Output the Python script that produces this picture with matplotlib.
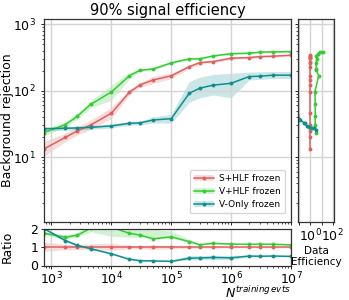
import numpy as np
import matplotlib
matplotlib.use("Agg")
import matplotlib.pyplot as plt
from matplotlib.patches import Patch
from matplotlib.lines import Line2D
from matplotlib.ticker import FixedLocator, FixedFormatter

# ---------------- data ----------------
n_train = [750, 1700, 2700, 4500, 1e4, 2e4, 3e4, 5e4, 1e5, 2e5, 3e5, 5e5, 1e6, 2e6, 3e6, 5e6, 1e7]

shlf = [13.2, 19.8, 24.7, 30.4, 45.6, 94.6, 122, 145, 167, 230, 264, 274, 308, 315, 326, 330, 342]
shlf_lo = [10.3, 17.0, 21.5, 26, 38, 86, 113, 128, 152, 215, 250, 262, 296, 303, 314, 318, 330]
shlf_hi = [17.0, 23.0, 28.5, 36, 56, 104, 131, 165, 183, 245, 278, 286, 320, 327, 338, 342, 354]

vhlf = [23.3, 30.7, 41, 62, 95.5, 167, 203, 212, 262, 301, 301, 333, 361, 366, 380, 384, 387]
vhlf_lo = [21, 28, 37, 55, 72, 150, 194, 204, 252, 292, 292, 324, 352, 356, 370, 374, 377]
vhlf_hi = [26, 34, 46, 70, 120, 188, 214, 221, 272, 310, 310, 342, 370, 376, 390, 394, 397]

vonly = [26.7, 27.1, 27.4, 28.0, 29.4, 32.2, 32.6, 36.2, 37.8, 91.4, 109, 121, 129, 163, 165, 171, 171]
vonly_lo = [25, 25.3, 25.6, 26.2, 27.4, 30, 30.4, 32.5, 32.5, 67, 78, 86, 78, 145, 148, 152, 152]
vonly_hi = [28.5, 28.8, 29.2, 29.8, 31.4, 34.5, 35, 40, 44, 137, 160, 175, 183, 190, 192, 194, 194]

# ratio bands (relative to S+HLF frozen)
vhlf_ratio_lo = [1.65, 1.45, 1.55, 1.85, 1.6, 1.55, 1.55, 1.45, 1.5, 1.27, 1.12, 1.18, 1.15, 1.14, 1.15, 1.14, 1.11]
vhlf_ratio_hi = [1.85, 1.68, 1.82, 2.3, 2.6, 2.3, 2.1, 2.0, 1.88, 1.42, 1.17, 1.26, 1.2, 1.19, 1.2, 1.19, 1.16]
vonly_ratio_lo = [1.95, 1.3, 1.05, 0.87, 0.6, 0.31, 0.25, 0.23, 0.21, 0.3, 0.32, 0.33, 0.33, 0.47, 0.47, 0.48, 0.46]
vonly_ratio_hi = [2.1, 1.45, 1.17, 0.97, 0.68, 0.37, 0.29, 0.28, 0.27, 0.55, 0.55, 0.56, 0.55, 0.57, 0.56, 0.56, 0.54]

# data efficiency panel
eff_vhlf_y = [23.3, 30.7, 41, 62, 95.5, 167, 203, 212, 262, 301, 333, 361, 380, 387]
eff_vhlf = [3.2, 2.7, 2.7, 2.7, 2.5, 5.5, 3.5, 3.5, 3.0, 4.0, 3.5, 4.5, 8, 15]
eff_vonly_y = [25.5, 27.1, 27.4, 28.0, 29.4, 32.2, 32.6, 36.2, 37.8, 91.4]
eff_vonly = [3.2, 2.3, 1.4, 0.8, 0.45, 0.3, 0.27, 0.12, 0.09, 0.05]

labels = ["S+HLF frozen", "V+HLF frozen", "V-Only frozen"]
colors = ["#e06060", "#33cc33", "#0e8f8f"]

# ---------------- figure ----------------
W, H = 349, 300
fig = plt.figure(figsize=(W / 100, H / 100), dpi=100)
ax = fig.add_axes([44 / W, 78 / H, 247 / W, 203 / H])
axr = fig.add_axes([44 / W, 34.5 / H, 247 / W, 36.5 / H], sharex=ax)
axe = fig.add_axes([298.3 / W, 78 / H, 35.4 / W, 203 / H], sharey=ax)

x = np.array(n_train)
ref = np.array(shlf)
series = [
    (shlf, shlf_lo, shlf_hi),
    (vhlf, vhlf_lo, vhlf_hi),
    (vonly, vonly_lo, vonly_hi),
]
ratio_bands = [
    (np.array(shlf_lo) / ref, np.array(shlf_hi) / ref),
    (vhlf_ratio_lo, vhlf_ratio_hi),
    (vonly_ratio_lo, vonly_ratio_hi),
]

handles = []
for (y, lo, hi), (rlo, rhi), c, lab in zip(series, ratio_bands, colors, labels):
    ax.fill_between(x, lo, hi, color=c, alpha=0.22, lw=0)
    ax.plot(x, y, color=c, lw=1.1, marker="o", ms=1.8)
    axr.fill_between(x, rlo, rhi, color=c, alpha=0.22, lw=0)
    axr.plot(x, np.array(y) / ref, color=c, lw=1.1, marker="o", ms=1.8)
    handles.append((Patch(facecolor=c, alpha=0.22, lw=0),
                    Line2D([], [], color=c, lw=1.1, marker="o", ms=1.8)))

# data efficiency panel
axe.plot(np.ones(len(shlf)), shlf, color=colors[0], lw=1.1, marker="o", ms=1.8)
axe.plot(eff_vhlf, eff_vhlf_y, color=colors[1], lw=1.1, marker="o", ms=1.8)
axe.plot(eff_vonly, eff_vonly_y, color=colors[2], lw=1.1, marker="o", ms=1.8)

# ---------------- axes styling ----------------
ax.set_xscale("log")
ax.set_yscale("log")
ax.set_xlim(x[0], x[-1])
ax.set_ylim(1.05, 1200)
ax.set_title("90% signal efficiency", fontsize=10.5, pad=3)
ax.set_ylabel("Background rejection", fontsize=9)
ax.tick_params(labelbottom=False, labelsize=9, length=2.5, width=0.6)
ax.tick_params(which="minor", length=1.5, width=0.5)
ax.grid(True, which="major", color="#d4d4d4", lw=1)

axr.set_ylim(0, 2)
axr.set_yticks([0, 1, 2])
axr.set_ylabel("Ratio", fontsize=9)
axr.tick_params(labelsize=9, length=2.5, width=0.6, pad=1.5)
axr.tick_params(axis="x", pad=1)
axr.tick_params(which="minor", length=1.5, width=0.5)
axr.grid(True, which="major", axis="x", color="#d4d4d4", lw=1)
axr.set_xlabel(r"$N^{training\,evts}$", fontsize=9, loc="right", labelpad=-1)

axe.set_xscale("log")
axe.set_xlim(0.078, 128)
axe.xaxis.set_major_locator(FixedLocator([0.1, 1, 10, 100]))
axe.xaxis.set_major_formatter(FixedFormatter(["", r"$10^{0}$", "", r"$10^{2}$"]))
axe.xaxis.set_minor_locator(FixedLocator([]))
axe.grid(True, which="major", color="#d4d4d4", lw=1)
axe.tick_params(labelleft=False, labelsize=9, length=2.5, width=0.6, pad=1.5)
axe.tick_params(which="minor", length=1.5, width=0.5)
axe.set_xlabel("Data\nEfficiency", fontsize=7.5, labelpad=1)

for a in (ax, axr, axe):
    for s in a.spines.values():
        s.set_linewidth(0.9)
        s.set_color("#333333")

ax.legend(handles, labels, loc="lower right", fontsize=6.5, frameon=True,
          borderpad=0.45, labelspacing=0.45, handlelength=2.2, handletextpad=0.6,
          bbox_to_anchor=(0.995, 0.02))

ax.yaxis.set_label_coords(-0.122, 0.5)
axr.yaxis.set_label_coords(-0.122, 0.5)

fig.savefig("out.png", dpi=100)
